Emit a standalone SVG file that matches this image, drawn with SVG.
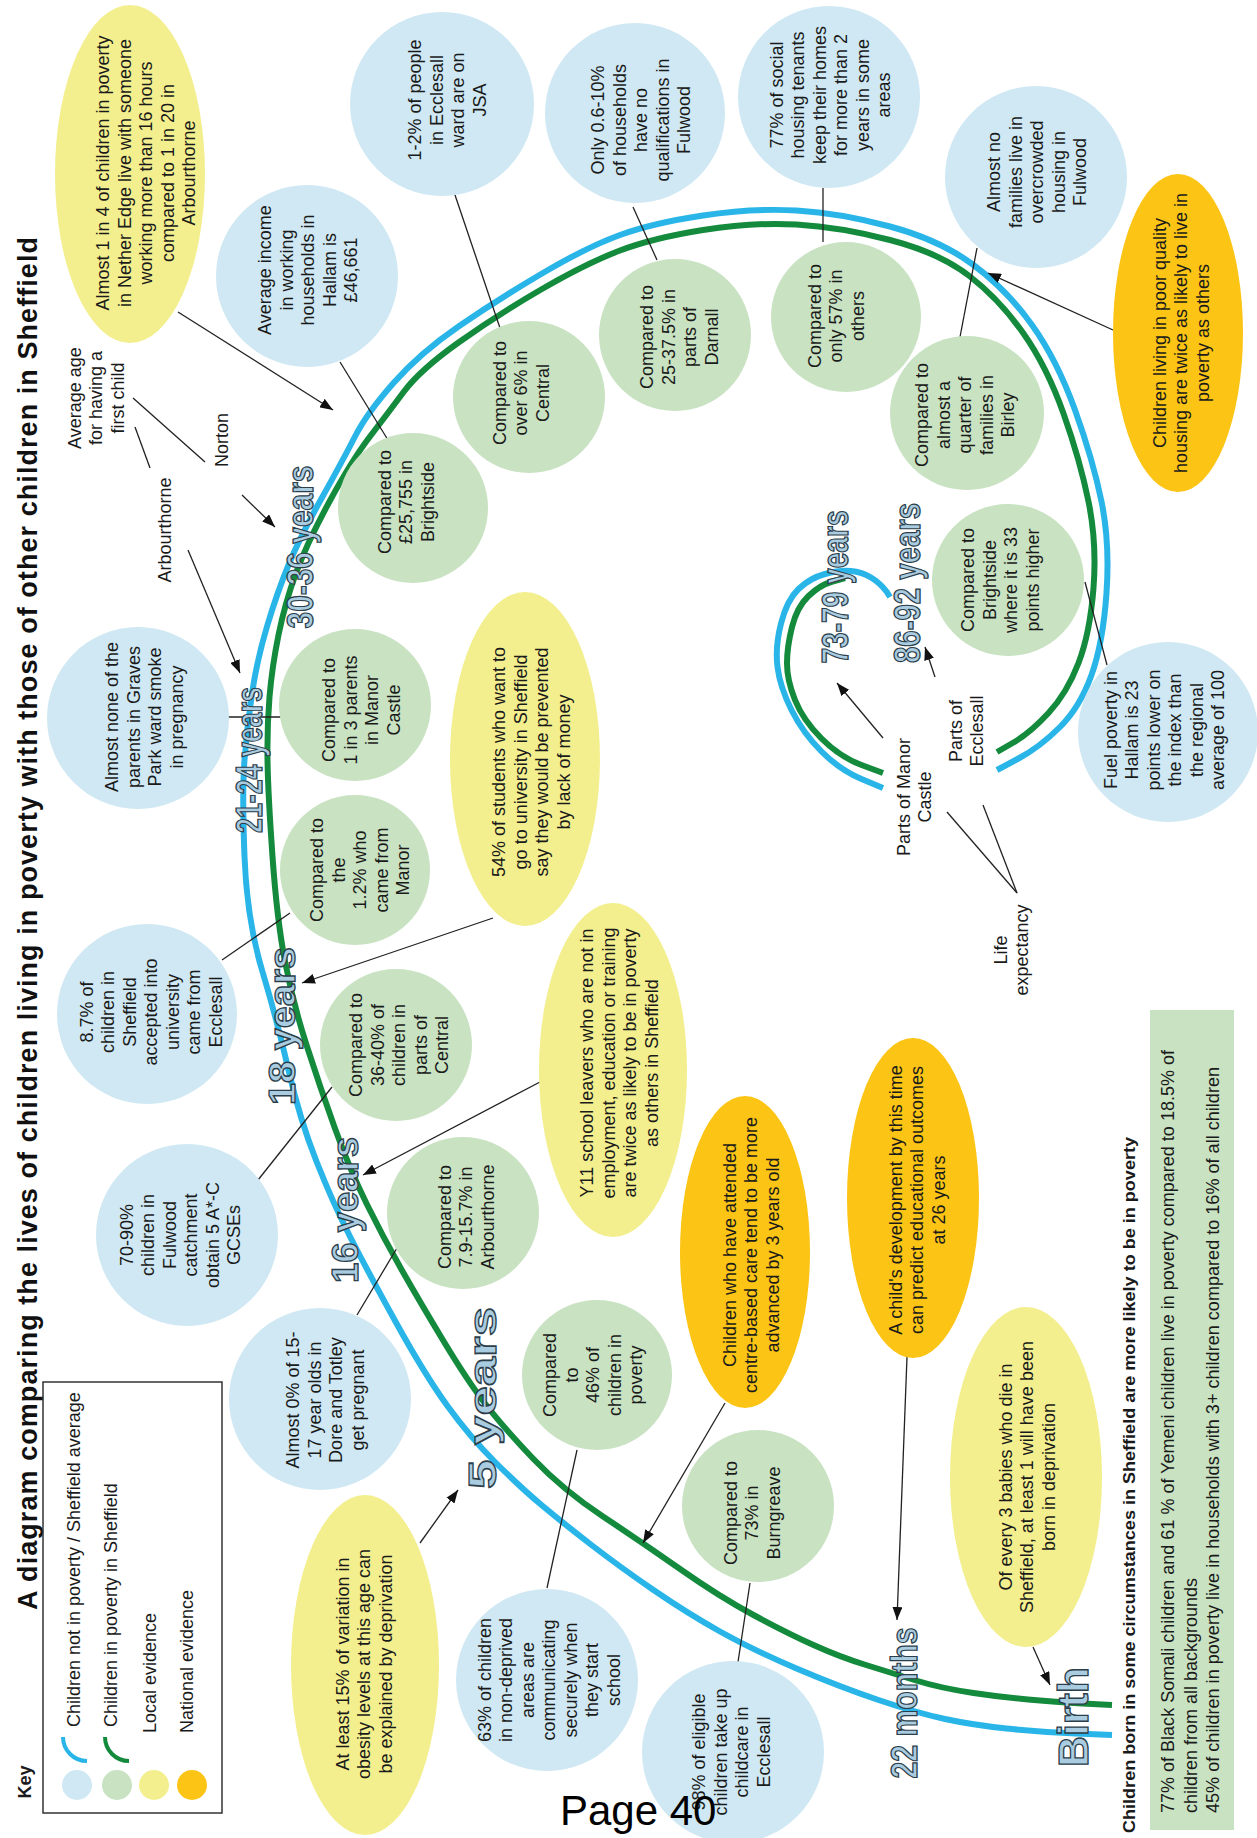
<svg xmlns="http://www.w3.org/2000/svg" width="1257" height="1838" viewBox="0 0 1257 1838">
<style>
.t{font-family:"Liberation Sans",Arial,sans-serif;font-size:18px;fill:#1a1a1a;text-anchor:middle}
.ts{font-family:"Liberation Sans",Arial,sans-serif;font-size:18px;fill:#1a1a1a;text-anchor:start}
.blue{fill:#cfe8f3}
.green{fill:#c8e2c2}
.yel{fill:#f3ef8e}
.org{fill:#fcc414}
.lbl{font-family:"Liberation Sans",Arial,sans-serif;font-weight:bold;font-size:36px;fill:#a9cce0;stroke:#2c3e4a;stroke-width:1.3;text-anchor:middle}
.ln{stroke:#222;stroke-width:1.3;fill:none}
.ar{marker-end:url(#ah)}
.cb{fill:none;stroke:#29b5e8;stroke-width:6;stroke-linecap:butt}
.cg{fill:none;stroke:#148a3c;stroke-width:6;stroke-linecap:butt}
</style>
<defs>
<marker id="ah" markerWidth="13" markerHeight="10" refX="13" refY="5" orient="auto" markerUnits="userSpaceOnUse"><path d="M0,0 L13,5 L0,10 z" fill="#111"/></marker>
</defs>
<rect width="1257" height="1838" fill="#ffffff"/>

<g id="curves">
<path class="cb" d="M1112,1735 L1076,1733.5 Q1040,1732 1006.5,1728.5 Q973,1725 945,1719 Q917,1713 878.5,1700 Q840,1687 796.5,1668.5 Q753,1650 720,1631.5 Q687,1613 653.5,1590 Q620,1567 591.5,1545 Q563,1523 541.5,1505 Q520,1487 495,1462 Q470,1437 447.5,1406 Q425,1375 396,1322.5 Q367,1270 350,1236.5 Q333,1203 316.5,1161.5 Q300,1120 288.5,1070 Q277,1020 262,970 Q247,920 244.5,856.5 Q242,793 244.5,760 Q247,727 252,693.5 Q257,660 267,626.5 Q277,593 288.5,565 Q300,537 321.5,498.5 Q343,460 355,436.5 Q367,413 393.5,383 Q420,353 458.5,326.5 Q497,300 542,273.5 Q587,247 620,235 Q653,223 703,215.5 Q753,208 796.5,210.5 Q840,213 890,226.5 Q940,240 973.5,265 Q1007,290 1032,325 Q1057,360 1075,410 Q1093,460 1101.5,501.5 Q1110,543 1106.5,593 Q1103,643 1091.5,675 Q1080,707 1060,727 Q1040,747 1018.5,758.5 L997,770"/>
<path class="cg" d="M1112,1705 L1092.5,1704 Q1073,1703 1040,1700.5 Q1007,1698 973.5,1693 Q940,1688 916,1680.5 Q892,1673 866,1665 Q840,1657 813.5,1645 Q787,1633 753.5,1615 Q720,1597 681.5,1570 Q643,1543 603,1516.5 Q563,1490 533,1458.5 Q503,1427 485,1403.5 Q467,1380 443.5,1341 Q420,1302 401.5,1269.5 Q383,1237 366.5,1203.5 Q350,1170 335,1128.5 Q320,1087 306.5,1045 Q293,1003 285,961.5 Q277,920 272.5,856.5 Q268,793 267.5,760 Q267,727 269.5,697 Q272,667 278.5,635 Q285,603 296,573 Q307,543 329.5,501.5 Q352,460 370,436.5 Q388,413 404,391.5 Q420,370 458.5,342.5 Q497,315 542,289 Q587,263 620,250.5 Q653,238 703,230 Q753,222 796.5,224.5 Q840,227 890,240 Q940,253 970,276.5 Q1000,300 1023.5,333.5 Q1047,367 1063.5,413.5 Q1080,460 1088.5,501.5 Q1097,543 1093.5,588 Q1090,633 1078.5,663 Q1067,693 1048.5,713 Q1030,733 1013.5,742.5 L997,752"/>
<path class="cb" d="M883,788 L861.5,779 Q840,770 821.5,751.5 Q803,733 791.5,710 Q780,687 777.5,667 Q775,647 781,623.5 Q787,600 798.5,589 Q810,578 825,574 Q840,570 851,571 Q862,572 871,577.5 Q880,583 886.5,591.5 L890,597"/>
<path class="cg" d="M883,773 L861.5,765 Q840,757 821.5,738.5 Q803,720 795,700 Q787,680 787,663.5 Q787,647 792,627 Q797,607 808.5,596 Q820,585 832.5,581.5 L845,578"/>
</g>

<g id="connectors">
<path class="ln ar" d="M178,312 L333,410"/>
<path class="ln" d="M340,362 L388,440"/>
<path class="ln" d="M133,398 L205,462"/>
<path class="ln" d="M135,427 L150,468"/>
<path class="ln ar" d="M188,550 L240,673"/>
<path class="ln ar" d="M242,495 L275,527"/>
<path class="ln" d="M455,195 L500,328"/>
<path class="ln" d="M633,207 L657,260"/>
<path class="ln" d="M823,188 L823,242"/>
<path class="ln" d="M977,248 L960,337"/>
<path class="ln ar" d="M1113,330 L988,273"/>
<path class="ln" d="M228,717 L283,717"/>
<path class="ln" d="M222,960 L290,913"/>
<path class="ln ar" d="M493,918 L302,983"/>
<path class="ln" d="M258,1180 L332,1087"/>
<path class="ln ar" d="M540,1082 L363,1175"/>
<path class="ln" d="M357,1315 L400,1243"/>
<path class="ln ar" d="M420,1543 L458,1490"/>
<path class="ln" d="M577,1450 L547,1588"/>
<path class="ln ar" d="M725,1403 L643,1543"/>
<path class="ln" d="M750,1583 L738,1662"/>
<path class="ln ar" d="M907,1357 L897,1620"/>
<path class="ln ar" d="M1033,1647 L1050,1685"/>
<path class="ln" d="M1085,582 L1107,665"/>
<path class="ln ar" d="M883,738 L837,683"/>
<path class="ln ar" d="M935,677 L925,647"/>
<path class="ln" d="M1017,893 L947,812"/>
<path class="ln" d="M1017,893 L983,805"/>
</g>

<g id="nodes">
<g id="y-nether-edge"><ellipse class="yel" cx="130" cy="174" rx="75" ry="169"/>
<text class="t" transform="translate(146,173) rotate(-90)"><tspan x="0" y="-36.7">Almost 1 in 4 of children in poverty</tspan><tspan x="0" dy="21.5">in Nether Edge live with someone</tspan><tspan x="0" dy="21.5">working more than 16 hours</tspan><tspan x="0" dy="21.5">compared to 1 in 20 in</tspan><tspan x="0" dy="21.5">Arbourthorne</tspan></text></g>

<g id="b-income"><circle class="blue" cx="307" cy="276" r="91"/>
<text class="t" transform="translate(308,270) rotate(-90)"><tspan x="0" y="-36.7">Average income</tspan><tspan x="0" dy="21.5">in working</tspan><tspan x="0" dy="21.5">households in</tspan><tspan x="0" dy="21.5">Hallam is</tspan><tspan x="0" dy="21.5">£46,661</tspan></text></g>

<g id="b-jsa"><circle class="blue" cx="442" cy="104" r="92"/>
<text class="t" transform="translate(447,100) rotate(-90)"><tspan x="0" y="-25.95">1-2% of people</tspan><tspan x="0" dy="21.5">in Ecclesall</tspan><tspan x="0" dy="21.5">ward are on</tspan><tspan x="0" dy="21.5">JSA</tspan></text></g>

<g id="b-qualifications"><circle class="blue" cx="635" cy="113" r="90"/>
<text class="t" transform="translate(641,120) rotate(-90)"><tspan x="0" y="-36.7">Only 0.6-10%</tspan><tspan x="0" dy="21.5">of households</tspan><tspan x="0" dy="21.5">have no</tspan><tspan x="0" dy="21.5">qualifications in</tspan><tspan x="0" dy="21.5">Fulwood</tspan></text></g>

<g id="b-social-housing"><circle class="blue" cx="829" cy="97" r="91"/>
<text class="t" transform="translate(830,95) rotate(-90)"><tspan x="0" y="-47.45">77% of social</tspan><tspan x="0" dy="21.5">housing tenants</tspan><tspan x="0" dy="21.5">keep their homes</tspan><tspan x="0" dy="21.5">for more than 2</tspan><tspan x="0" dy="21.5">years in some</tspan><tspan x="0" dy="21.5">areas</tspan></text></g>

<g id="b-overcrowded"><circle class="blue" cx="1036" cy="177" r="91"/>
<text class="t" transform="translate(1037,172) rotate(-90)"><tspan x="0" y="-36.7">Almost no</tspan><tspan x="0" dy="21.5">families live in</tspan><tspan x="0" dy="21.5">overcrowded</tspan><tspan x="0" dy="21.5">housing in</tspan><tspan x="0" dy="21.5">Fulwood</tspan></text></g>

<g id="o-housing"><ellipse class="org" cx="1178" cy="333" rx="65" ry="159"/>
<text class="t" transform="translate(1181,333) rotate(-90)"><tspan x="0" y="-15.2">Children living in poor quality</tspan><tspan x="0" dy="21.5">housing are twice as likely to live in</tspan><tspan x="0" dy="21.5">poverty as others</tspan></text></g>

<g id="g-brightside-income"><circle class="green" cx="413" cy="508" r="75"/>
<text class="t" transform="translate(406,502) rotate(-90)"><tspan x="0" y="-15.2">Compared to</tspan><tspan x="0" dy="21.5">£25,755 in</tspan><tspan x="0" dy="21.5">Brightside</tspan></text></g>

<g id="g-central-jsa"><circle class="green" cx="529" cy="397" r="76"/>
<text class="t" transform="translate(521,393) rotate(-90)"><tspan x="0" y="-15.2">Compared to</tspan><tspan x="0" dy="21.5">over 6% in</tspan><tspan x="0" dy="21.5">Central</tspan></text></g>

<g id="g-darnall"><circle class="green" cx="675" cy="335" r="76"/>
<text class="t" transform="translate(679,337) rotate(-90)"><tspan x="0" y="-25.95">Compared to</tspan><tspan x="0" dy="21.5">25-37.5% in</tspan><tspan x="0" dy="21.5">parts of</tspan><tspan x="0" dy="21.5">Darnall</tspan></text></g>

<g id="g-others"><circle class="green" cx="846" cy="317" r="75"/>
<text class="t" transform="translate(836,316) rotate(-90)"><tspan x="0" y="-15.2">Compared to</tspan><tspan x="0" dy="21.5">only 57% in</tspan><tspan x="0" dy="21.5">others</tspan></text></g>

<g id="g-birley"><circle class="green" cx="967" cy="413" r="77"/>
<text class="t" transform="translate(965,415) rotate(-90)"><tspan x="0" y="-36.7">Compared to</tspan><tspan x="0" dy="21.5">almost a</tspan><tspan x="0" dy="21.5">quarter of</tspan><tspan x="0" dy="21.5">families in</tspan><tspan x="0" dy="21.5">Birley</tspan></text></g>

<g id="b-graves-park"><circle class="blue" cx="138" cy="718" r="91"/>
<text class="t" transform="translate(144,717) rotate(-90)"><tspan x="0" y="-25.95">Almost none of the</tspan><tspan x="0" dy="21.5">parents in Graves</tspan><tspan x="0" dy="21.5">Park ward smoke</tspan><tspan x="0" dy="21.5">in pregnancy</tspan></text></g>

<g id="g-manor-parents"><circle class="green" cx="355" cy="705" r="76"/>
<text class="t" transform="translate(361,710) rotate(-90)"><tspan x="0" y="-25.95">Compared to</tspan><tspan x="0" dy="21.5">1 in 3 parents</tspan><tspan x="0" dy="21.5">in Manor</tspan><tspan x="0" dy="21.5">Castle</tspan></text></g>

<g id="g-manor-university"><circle class="green" cx="355" cy="870" r="75"/>
<text class="t" transform="translate(360,870) rotate(-90)"><tspan x="0" y="-36.7">Compared to</tspan><tspan x="0" dy="21.5">the</tspan><tspan x="0" dy="21.5">1.2% who</tspan><tspan x="0" dy="21.5">came from</tspan><tspan x="0" dy="21.5">Manor</tspan></text></g>

<g id="y-university"><ellipse class="yel" cx="525" cy="759" rx="75" ry="167"/>
<text class="t" transform="translate(531,762) rotate(-90)"><tspan x="0" y="-25.95">54% of students who want to</tspan><tspan x="0" dy="21.5">go to university in Sheffield</tspan><tspan x="0" dy="21.5">say they would be prevented</tspan><tspan x="0" dy="21.5">by lack of money</tspan></text></g>

<g id="g-brightside-fuel"><circle class="green" cx="1008" cy="580" r="76"/>
<text class="t" transform="translate(1000,580) rotate(-90)"><tspan x="0" y="-25.95">Compared to</tspan><tspan x="0" dy="21.5">Brightside</tspan><tspan x="0" dy="21.5">where it is 33</tspan><tspan x="0" dy="21.5">points higher</tspan></text></g>

<g id="b-fuel"><circle class="blue" cx="1168" cy="732" r="90"/>
<text class="t" transform="translate(1164,730) rotate(-90)"><tspan x="0" y="-47.45">Fuel poverty in</tspan><tspan x="0" dy="21.5">Hallam is 23</tspan><tspan x="0" dy="21.5">points lower on</tspan><tspan x="0" dy="21.5">the index than</tspan><tspan x="0" dy="21.5">the regional</tspan><tspan x="0" dy="21.5">average of 100</tspan></text></g>

<g id="b-ecclesall-university"><circle class="blue" cx="147" cy="1014" r="90"/>
<text class="t" transform="translate(151,1012) rotate(-90)"><tspan x="0" y="-58.2">8.7% of</tspan><tspan x="0" dy="21.5">children in</tspan><tspan x="0" dy="21.5">Sheffield</tspan><tspan x="0" dy="21.5">accepted into</tspan><tspan x="0" dy="21.5">university</tspan><tspan x="0" dy="21.5">came from</tspan><tspan x="0" dy="21.5">Ecclesall</tspan></text></g>

<g id="g-central-gcse"><circle class="green" cx="396" cy="1045" r="76"/>
<text class="t" transform="translate(399,1045) rotate(-90)"><tspan x="0" y="-36.7">Compared to</tspan><tspan x="0" dy="21.5">36-40% of</tspan><tspan x="0" dy="21.5">children in</tspan><tspan x="0" dy="21.5">parts of</tspan><tspan x="0" dy="21.5">Central</tspan></text></g>

<g id="b-fulwood-gcse"><circle class="blue" cx="187" cy="1235" r="91"/>
<text class="t" transform="translate(180,1235) rotate(-90)"><tspan x="0" y="-47.45">70-90%</tspan><tspan x="0" dy="21.5">children in</tspan><tspan x="0" dy="21.5">Fulwood</tspan><tspan x="0" dy="21.5">catchment</tspan><tspan x="0" dy="21.5">obtain 5 A*-C</tspan><tspan x="0" dy="21.5">GCSEs</tspan></text></g>

<g id="y-neet"><ellipse class="yel" cx="613" cy="1070" rx="74" ry="167"/>
<text class="t" transform="translate(619,1063) rotate(-90)"><tspan x="0" y="-25.95">Y11 school leavers who are not in</tspan><tspan x="0" dy="21.5">employment, education or training</tspan><tspan x="0" dy="21.5">are twice as likely to be in poverty</tspan><tspan x="0" dy="21.5">as others in Sheffield</tspan></text></g>

<g id="g-arbourthorne"><circle class="green" cx="463" cy="1213" r="76"/>
<text class="t" transform="translate(466,1217) rotate(-90)"><tspan x="0" y="-15.2">Compared to</tspan><tspan x="0" dy="21.5">7.9-15.7% in</tspan><tspan x="0" dy="21.5">Arbourthorne</tspan></text></g>

<g id="b-dore"><circle class="blue" cx="320" cy="1399" r="91"/>
<text class="t" transform="translate(325,1400) rotate(-90)"><tspan x="0" y="-25.95">Almost 0% of 15-</tspan><tspan x="0" dy="21.5">17 year olds in</tspan><tspan x="0" dy="21.5">Dore and Totley</tspan><tspan x="0" dy="21.5">get pregnant</tspan></text></g>

<g id="o-childcare"><ellipse class="org" cx="745" cy="1252" rx="65" ry="156"/>
<text class="t" transform="translate(751,1255) rotate(-90)"><tspan x="0" y="-15.2">Children who have attended</tspan><tspan x="0" dy="21.5">centre-based care tend to be more</tspan><tspan x="0" dy="21.5">advanced by 3 years old</tspan></text></g>

<g id="o-development"><ellipse class="org" cx="913" cy="1198" rx="66" ry="160"/>
<text class="t" transform="translate(917,1200) rotate(-90)"><tspan x="0" y="-15.2">A child's development by this time</tspan><tspan x="0" dy="21.5">can predict educational outcomes</tspan><tspan x="0" dy="21.5">at 26 years</tspan></text></g>

<g id="g-poverty46"><circle class="green" cx="597" cy="1375" r="75"/>
<text class="t" transform="translate(593,1375) rotate(-90)"><tspan x="0" y="-36.7">Compared</tspan><tspan x="0" dy="21.5">to</tspan><tspan x="0" dy="21.5">46% of</tspan><tspan x="0" dy="21.5">children in</tspan><tspan x="0" dy="21.5">poverty</tspan></text></g>

<g id="y-obesity"><ellipse class="yel" cx="365" cy="1665" rx="74" ry="170"/>
<text class="t" transform="translate(364,1664) rotate(-90)"><tspan x="0" y="-15.2">At least 15% of variation in</tspan><tspan x="0" dy="21.5">obesity levels at this age can</tspan><tspan x="0" dy="21.5">be explained by deprivation</tspan></text></g>

<g id="b-communicating"><circle class="blue" cx="547" cy="1680" r="91"/>
<text class="t" transform="translate(549,1680) rotate(-90)"><tspan x="0" y="-58.2">63% of children</tspan><tspan x="0" dy="21.5">in non-deprived</tspan><tspan x="0" dy="21.5">areas are</tspan><tspan x="0" dy="21.5">communicating</tspan><tspan x="0" dy="21.5">securely when</tspan><tspan x="0" dy="21.5">they start</tspan><tspan x="0" dy="21.5">school</tspan></text></g>

<g id="g-burngreave"><circle class="green" cx="758" cy="1506" r="76"/>
<text class="t" transform="translate(752,1513) rotate(-90)"><tspan x="0" y="-15.2">Compared to</tspan><tspan x="0" dy="21.5">73% in</tspan><tspan x="0" dy="21.5">Burngreave</tspan></text></g>

<g id="b-childcare"><circle class="blue" cx="733" cy="1752" r="91"/>
<text class="t" transform="translate(731,1752) rotate(-90)"><tspan x="0" y="-25.95">98% of eligible</tspan><tspan x="0" dy="21.5">children take up</tspan><tspan x="0" dy="21.5">childcare in</tspan><tspan x="0" dy="21.5">Ecclesall</tspan></text></g>

<g id="y-babies"><ellipse class="yel" cx="1026" cy="1477" rx="76" ry="170"/>
<text class="t" transform="translate(1027,1477) rotate(-90)"><tspan x="0" y="-15.2">Of every 3 babies who die in</tspan><tspan x="0" dy="21.5">Sheffield, at least 1 will have been</tspan><tspan x="0" dy="21.5">born in deprivation</tspan></text></g>

<g id="t-average-age"><text class="t" transform="translate(96,398) rotate(-90)"><tspan x="0" y="-15.2">Average age</tspan><tspan x="0" dy="21.5">for having a</tspan><tspan x="0" dy="21.5">first child</tspan></text></g>
<g id="t-norton"><text class="t" transform="translate(222,440) rotate(-90)"><tspan x="0" y="6.3">Norton</tspan></text></g>
<g id="t-arbourthorne"><text class="t" transform="translate(165,530) rotate(-90)"><tspan x="0" y="6.3">Arbourthorne</tspan></text></g>
<g id="t-manor-castle"><text class="t" transform="translate(914,797) rotate(-90)"><tspan x="0" y="-4.45">Parts of Manor</tspan><tspan x="0" dy="21.5">Castle</tspan></text></g>
<g id="t-ecclesall"><text class="t" transform="translate(966,731) rotate(-90)"><tspan x="0" y="-4.45">Parts of</tspan><tspan x="0" dy="21.5">Ecclesall</tspan></text></g>
<g id="t-life"><text class="t" transform="translate(1011,950) rotate(-90)"><tspan x="0" y="-4.45">Life</tspan><tspan x="0" dy="21.5">expectancy</tspan></text></g>

<g id="circumstances">
<text class="t" style="font-weight:bold;font-size:17px" transform="translate(1135,1485) rotate(-90)" textLength="696" lengthAdjust="spacingAndGlyphs">Children born in some circumstances in Sheffield are more likely to be in poverty</text>
<rect class="green" x="1150" y="1010" width="84" height="820"/>
<text class="ts" transform="translate(1174,1813) rotate(-90)" textLength="763" lengthAdjust="spacingAndGlyphs">77% of Black Somali children and 61 % of Yemeni children live in poverty compared to 18.5% of</text>
<text class="ts" transform="translate(1197,1813) rotate(-90)">children from all backgrounds</text>
<text class="ts" transform="translate(1219,1813) rotate(-90)" textLength="746" lengthAdjust="spacingAndGlyphs">45% of children in poverty live in households with 3+ children compared to 16% of all children</text>
</g>
</g>

<g id="age-labels">
<text class="lbl" transform="translate(313,547) rotate(-90)" textLength="163" lengthAdjust="spacingAndGlyphs">30-36 years</text>
<text class="lbl" transform="translate(262,760) rotate(-90)" textLength="146" lengthAdjust="spacingAndGlyphs">21-24 years</text>
<text class="lbl" transform="translate(295,1026) rotate(-90)" textLength="158" lengthAdjust="spacingAndGlyphs">18 years</text>
<text class="lbl" transform="translate(358,1210) rotate(-90)" textLength="146" lengthAdjust="spacingAndGlyphs">16 years</text>
<text class="lbl" style="font-size:38px" transform="translate(496,1398) rotate(-90)" textLength="182" lengthAdjust="spacingAndGlyphs">5 years</text>
<text class="lbl" transform="translate(917,1703) rotate(-90)" textLength="151" lengthAdjust="spacingAndGlyphs">22 months</text>
<text class="lbl" style="font-size:42px" transform="translate(1088,1717) rotate(-90)" textLength="100" lengthAdjust="spacingAndGlyphs">Birth</text>
<text class="lbl" transform="translate(848,587) rotate(-90)" textLength="153" lengthAdjust="spacingAndGlyphs">73-79 years</text>
<text class="lbl" transform="translate(920,583) rotate(-90)" textLength="160" lengthAdjust="spacingAndGlyphs">86-92 years</text>
</g>

<g id="title">
<text class="t" style="font-weight:bold;font-size:27px;fill:#111" transform="translate(37,923.5) rotate(-90)" textLength="1373" lengthAdjust="spacing">A diagram comparing the lives of children living in poverty with those of other children in Sheffield</text>
</g>

<g id="key">
<rect x="43" y="1382" width="179" height="431" fill="none" stroke="#333" stroke-width="1.5"/>
<text class="t" style="font-weight:bold" transform="translate(31,1782) rotate(-90)">Key</text>
<circle class="blue" cx="77" cy="1785" r="15"/>
<circle class="green" cx="117" cy="1785" r="15"/>
<circle class="yel" cx="154" cy="1785" r="15"/>
<circle class="org" cx="192" cy="1785" r="15"/>
<path d="M63,1737 A24,24 0 0 0 87,1761" fill="none" stroke="#29b5e8" stroke-width="4"/>
<path d="M105,1737 A24,24 0 0 0 129,1761" fill="none" stroke="#148a3c" stroke-width="4"/>
<text class="ts" transform="translate(80,1727) rotate(-90)">Children not in poverty / Sheffield average</text>
<text class="ts" transform="translate(117,1727) rotate(-90)">Children in poverty in Sheffield</text>
<text class="ts" transform="translate(156,1733) rotate(-90)">Local evidence</text>
<text class="ts" transform="translate(193,1733) rotate(-90)">National evidence</text>
</g>

<text x="560" y="1825" style="font-family:'Liberation Sans',Arial,sans-serif;font-size:42px;fill:#000">Page 40</text>
</svg>
